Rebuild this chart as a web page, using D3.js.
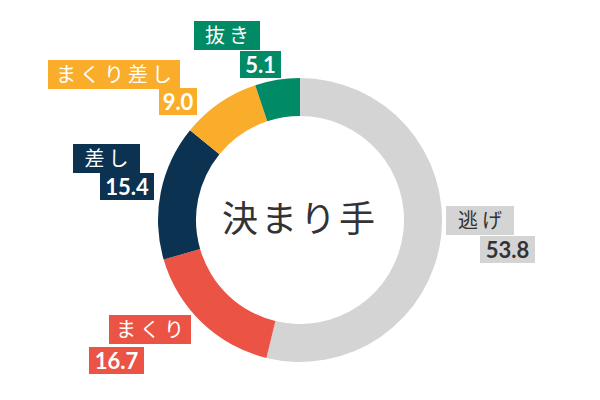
<!DOCTYPE html>
<html><head><meta charset="utf-8">
<script src="https://cdn.jsdelivr.net/npm/d3@7"></script>
<style>body{margin:0;background:#fff}</style></head>
<body><svg id="c" width="600" height="400"></svg>
<script>
const categories = ["逃げ","まくり","差し","まくり差し","抜き"];
const values = [53.8,16.7,15.4,9.0,5.1];
const colors = ["#d4d4d4","#eb5345","#0b3251","#f9ad2b","#008a66"];
const textColors = ["#333","#fff","#fff","#fff","#fff"];
// label box layout: [nameX, nameY, nameW, valX, valY, valW]
const layout = [
  [446,206,68, 480,236,55],
  [109,315,82, 89,347,55],
  [73,144,67, 100,173,54],
  [48,60,132, 159,88,38],
  [194,21,66, 240,51,41]
];
const svg = d3.select("#c");
const cx=300, cy=220;
const pie = d3.pie().sort(null).value(d=>d)(values);
const arc = d3.arc().innerRadius(104).outerRadius(142);
const g = svg.append("g").attr("transform",`translate(${cx},${cy})`);
g.selectAll("path").data(pie).join("path").attr("d",arc).attr("fill",(d,i)=>colors[i]);
svg.append("text").attr("x",cx).attr("y",cy+12).attr("text-anchor","middle")
  .attr("font-family","Noto Sans CJK JP").attr("font-size",36).attr("fill","#333")
  .attr("letter-spacing",3).text("決まり手");
categories.forEach((c,i)=>{
  const L=layout[i];
  svg.append("rect").attr("x",L[0]).attr("y",L[1]).attr("width",L[2]).attr("height",29).attr("fill",colors[i]);
  svg.append("text").attr("x",L[0]+L[2]/2+2).attr("y",L[1]+22).attr("text-anchor","middle")
    .attr("font-family","Noto Sans CJK JP").attr("font-size",20).attr("letter-spacing",4)
    .attr("fill",textColors[i]).text(c);
  svg.append("rect").attr("x",L[3]).attr("y",L[4]).attr("width",L[5]).attr("height",27).attr("fill",colors[i]);
  svg.append("text").attr("x",L[3]+L[5]/2).attr("y",L[4]+22).attr("text-anchor","middle")
    .attr("font-family","Lato").attr("font-weight","bold").attr("font-size",22)
    .attr("fill",textColors[i]).text(values[i].toFixed(1));
});
</script></body></html>
